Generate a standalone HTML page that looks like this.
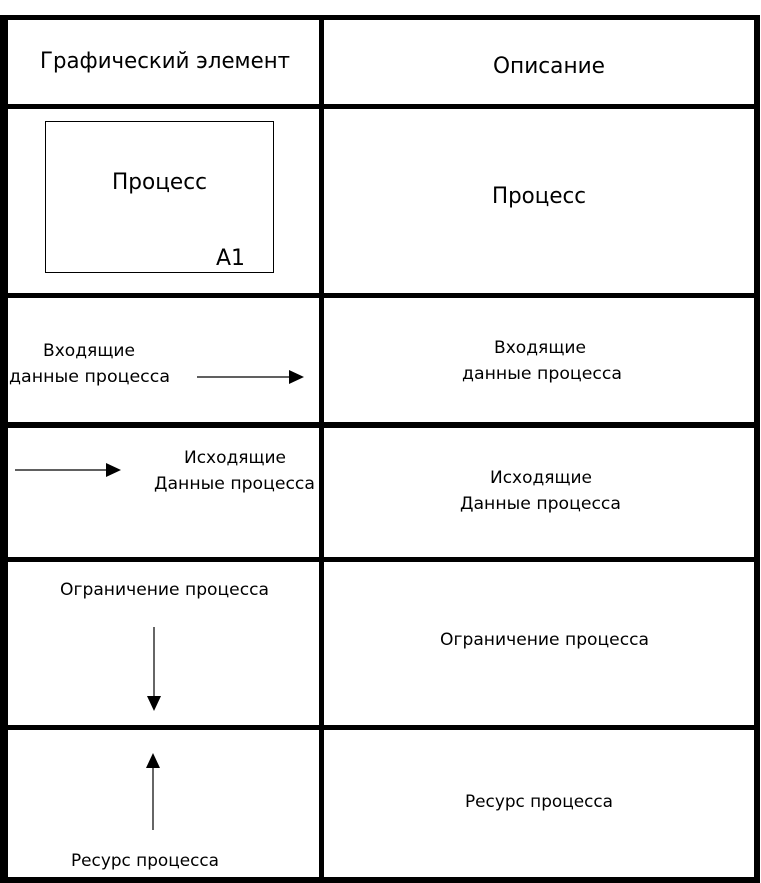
<!DOCTYPE html>
<html><head><meta charset="utf-8"><style>
html,body{margin:0;padding:0;background:#fff;}
svg{display:block;}
text{font-family:"DejaVu Sans","Liberation Sans",sans-serif;fill:#000;}
</style></head><body>
<svg width="761" height="883" viewBox="0 0 761 883" xmlns="http://www.w3.org/2000/svg">
<rect x="0" y="0" width="761" height="883" fill="#fff"/>
<g fill="#000">
<rect x="0" y="15" width="760" height="5"/>
<rect x="0" y="15" width="8" height="868"/>
<rect x="754" y="15" width="6" height="868"/>
<rect x="319" y="15" width="5" height="868"/>
<rect x="0" y="104" width="760" height="5"/>
<rect x="0" y="293" width="760" height="5"/>
<rect x="0" y="422" width="760" height="6"/>
<rect x="0" y="557" width="760" height="5"/>
<rect x="0" y="725" width="760" height="5"/>
<rect x="0" y="877" width="760" height="6"/>
</g>
<g>
<text x="40" y="68" font-size="22" textLength="250" lengthAdjust="spacingAndGlyphs">Графический элемент</text>
<text x="493" y="73" font-size="22" textLength="112" lengthAdjust="spacingAndGlyphs">Описание</text>
<rect x="45.5" y="121.5" width="228" height="151" fill="none" stroke="#000" stroke-width="1"/>
<text x="112" y="189" font-size="22" textLength="95" lengthAdjust="spacingAndGlyphs">Процесс</text>
<text x="216" y="265" font-size="22" textLength="29" lengthAdjust="spacingAndGlyphs">А1</text>
<text x="492" y="203" font-size="22" textLength="94" lengthAdjust="spacingAndGlyphs">Процесс</text>
<text x="43" y="356" font-size="17" textLength="92" lengthAdjust="spacingAndGlyphs">Входящие</text>
<text x="9" y="382" font-size="17" textLength="161" lengthAdjust="spacingAndGlyphs">данные процесса</text>
<line x1="197" y1="377" x2="292" y2="377" stroke="#000" stroke-width="1.2"/>
<polygon points="289,370 304,377 289,384" fill="#000"/>
<text x="494" y="353" font-size="17" textLength="92" lengthAdjust="spacingAndGlyphs">Входящие</text>
<text x="462" y="379" font-size="17" textLength="160" lengthAdjust="spacingAndGlyphs">данные процесса</text>
<line x1="15" y1="470" x2="108" y2="470" stroke="#000" stroke-width="1.2"/>
<polygon points="106,463 121,470 106,477" fill="#000"/>
<text x="184" y="463" font-size="17" textLength="102" lengthAdjust="spacingAndGlyphs">Исходящие</text>
<text x="154" y="489" font-size="17" textLength="161" lengthAdjust="spacingAndGlyphs">Данные процесса</text>
<text x="490" y="483" font-size="17" textLength="102" lengthAdjust="spacingAndGlyphs">Исходящие</text>
<text x="460" y="509" font-size="17" textLength="161" lengthAdjust="spacingAndGlyphs">Данные процесса</text>
<text x="60" y="595" font-size="17" textLength="209" lengthAdjust="spacingAndGlyphs">Ограничение процесса</text>
<line x1="154" y1="627" x2="154" y2="698" stroke="#000" stroke-width="1.2"/>
<polygon points="147,696 154,711 161,696" fill="#000"/>
<text x="440" y="645" font-size="17" textLength="209" lengthAdjust="spacingAndGlyphs">Ограничение процесса</text>
<line x1="153" y1="766" x2="153" y2="830" stroke="#000" stroke-width="1.2"/>
<polygon points="146,768 153,753 160,768" fill="#000"/>
<text x="71" y="866" font-size="17" textLength="148" lengthAdjust="spacingAndGlyphs">Ресурс процесса</text>
<text x="465" y="807" font-size="17" textLength="148" lengthAdjust="spacingAndGlyphs">Ресурс процесса</text>
</g>
</svg>
</body></html>
